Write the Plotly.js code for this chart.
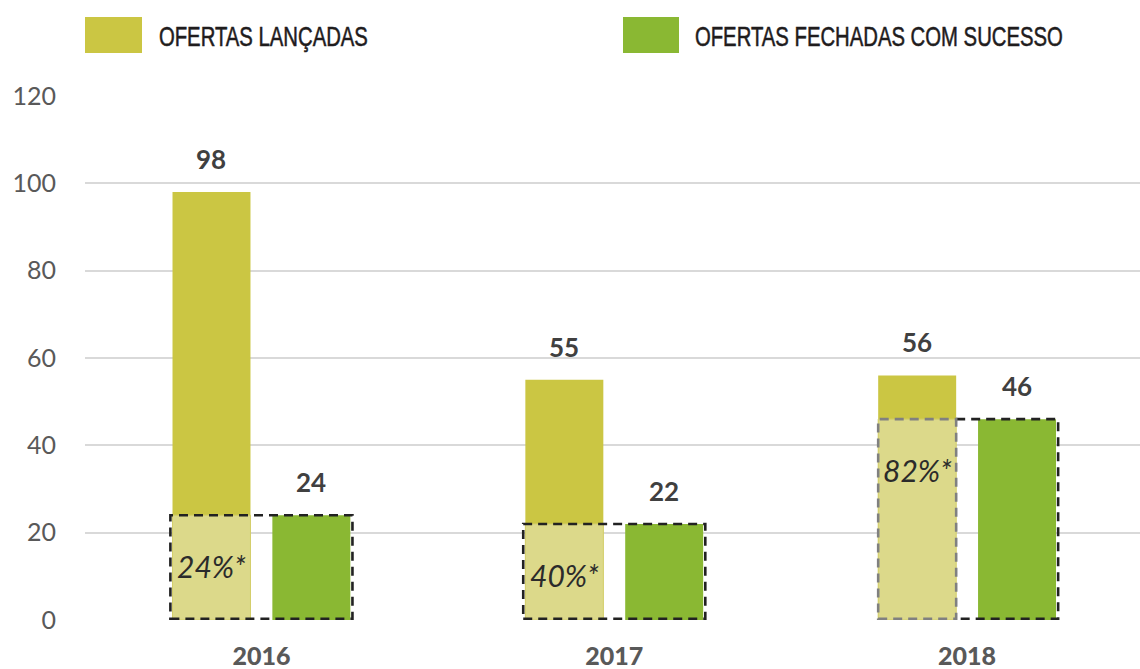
<!DOCTYPE html>
<html>
<head>
<meta charset="utf-8">
<script src="https://cdn.plot.ly/plotly-3.0.1.min.js"></script>
<style>html,body{margin:0;padding:0;background:#fff;}#chart{width:1140px;height:669px;}</style>
</head>
<body>
<div id="chart"></div>
<script>
// ---- data ----
const years = ['2016', '2017', '2018'];
const launched = [98, 55, 56];
const closed = [24, 22, 46];
const pctLabels = ['24%*', '40%*', '82%*'];
const seriesNames = ['OFERTAS LANÇADAS', 'OFERTAS FECHADAS COM SUCESSO'];
const yTicks = [0, 20, 40, 60, 80, 100, 120];

// ---- styling ----
const W = 1140, H = 669;
const M = {l: 85, r: 0, t: 96, b: 49};
const PW = W - M.l - M.r, PH = H - M.t - M.b;
const OLIVE = '#CBC643', LIGHT = '#DCD98A', GREEN = '#8AB833';
const BW = 0.221, OFF_A = -0.252, OFF_B = 0.031;
const idx = years.map((_, i) => i);
const outlineGray = [false, false, true];

const px2x = p => (p - M.l) / PW;
const px2y = p => (H - M.b - p) / PH;

const traces = [
  {type: 'bar', x: years, y: launched, offset: OFF_A, width: BW,
   marker: {color: OLIVE}, hoverinfo: 'none', showlegend: false},
  {type: 'bar', x: years, y: closed, offset: OFF_A, width: BW,
   marker: {color: LIGHT, line: {color: '#D3CE6A', width: 1}}, hoverinfo: 'none', showlegend: false},
  {type: 'bar', x: years, y: closed, offset: OFF_B, width: BW,
   marker: {color: GREEN}, hoverinfo: 'none', showlegend: false}
];

const shapes = [];
const dashBlack = {color: '#222', width: 2.6, dash: '9px,6px'};
const dashGray = {color: '#808080', width: 2.6, dash: '9px,6px'};
idx.forEach(i => {
  const xl = i - 0.258, xr = i + 0.258, yt = closed[i];
  if (!outlineGray[i]) {
    shapes.push({type: 'rect', xref: 'x', yref: 'y', x0: xl, x1: xr, y0: 0.3, y1: yt, line: dashBlack});
  } else {
    const xa = i + OFF_A + BW;
    const xs = i + OFF_A;
    shapes.push({type: 'path', xref: 'x', yref: 'y',
      path: `M ${xa} ${yt} L ${xr} ${yt} L ${xr} 0.3 L ${xa} 0.3`, line: dashBlack});
    shapes.push({type: 'rect', xref: 'x', yref: 'y', x0: xs, x1: xa, y0: 0.3, y1: yt, line: dashGray});
  }
});

// legend boxes
const LEG_SIZE = 20.3;     // natural Liberation Sans width fits the narrow original
const LEG_STRETCH = 1.36;  // vertical stretch to reach the original cap height
const legendBoxes = [
  {x0: 85, x1: 142, color: OLIVE, tx: 158},
  {x0: 623, x1: 679, color: GREEN, tx: 694}
];
legendBoxes.forEach(b => {
  shapes.push({type: 'rect', xref: 'paper', yref: 'paper', x0: px2x(b.x0), x1: px2x(b.x1),
    y0: px2y(53), y1: px2y(17), fillcolor: b.color, line: {width: 0}});
});

const annotations = [];
idx.forEach(i => {
  annotations.push({x: i + OFF_A + BW / 2, y: launched[i], xref: 'x', yref: 'y', text: '<b>' + launched[i] + '</b>',
    showarrow: false, yanchor: 'middle', yshift: 33, font: {family: 'Lato', size: 26, color: '#404040', weight: 900}});
  annotations.push({x: i + OFF_B + BW / 2, y: closed[i], xref: 'x', yref: 'y', text: '<b>' + closed[i] + '</b>',
    showarrow: false, yanchor: 'middle', yshift: 33, font: {family: 'Lato', size: 26, color: '#404040', weight: 900}});
  annotations.push({x: i + OFF_A + BW / 2, y: closed[i], xref: 'x', yref: 'y', text: '<i>' + pctLabels[i] + '</i>',
    showarrow: false, yanchor: 'middle', yshift: -51, font: {family: 'Lato', size: 30, color: '#2b2b2b'}});
});
legendBoxes.forEach((b, k) => {
  annotations.push({x: px2x(b.tx), y: px2y(36), xref: 'paper', yref: 'paper', xanchor: 'left', yanchor: 'middle',
    text: seriesNames[k], showarrow: false, borderpad: 0,
    font: {family: 'Liberation Sans', size: LEG_SIZE, color: '#1f1c1d'}});
});

const layout = {
  width: W, height: H, margin: M, paper_bgcolor: '#fff', plot_bgcolor: '#fff',
  barmode: 'overlay', showlegend: false,
  xaxis: {type: 'category', range: [-0.5, 2.49], showgrid: false, zeroline: false, showline: false,
    ticks: '', tickfont: {family: 'Lato', size: 25, color: '#595959', weight: 900}, ticklabelstandoff: 19},
  yaxis: {range: [0, 120], tickvals: yTicks, showgrid: true, gridcolor: '#D9D9D9', gridwidth: 2,
    zeroline: false, showline: false, ticks: '', ticklabelstandoff: 28,
    tickfont: {family: 'Lato', size: 25, color: '#595959'}},
  shapes: shapes, annotations: annotations
};

Plotly.newPlot('chart', traces, layout, {displayModeBar: false, staticPlot: true}).then(gd => {
  // stretch the legend labels vertically, like the tall condensed original typeface
  gd.querySelectorAll('.annotation-text').forEach(t => {
    if (seriesNames.indexOf(t.textContent) >= 0) {
      const bb = t.getBBox();
      const cy = bb.y + bb.height / 2;
      t.setAttribute('transform', `translate(0,${cy}) scale(1,${LEG_STRETCH}) translate(0,${-cy})`);
      t.style.stroke = '#1f1c1d';
      t.style.strokeWidth = '0.4px';
    }
  });
});
</script>
</body>
</html>
